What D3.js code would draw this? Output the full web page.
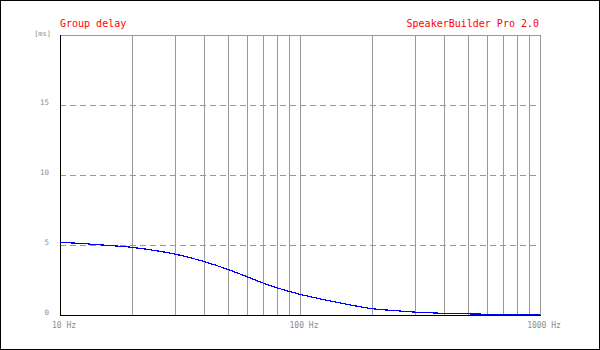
<!DOCTYPE html>
<html>
<head>
<meta charset="utf-8">
<script src="https://cdn.jsdelivr.net/npm/d3@7"></script>
<style>
  body { margin: 0; background: #fff; }
  svg { display: block; }
</style>
</head>
<body>
<svg id="chart"></svg>
<script>
// chart data
const freqs = [10, 12, 15, 20, 25, 30, 40, 50, 60, 70, 80, 90, 100, 120, 150, 200, 250, 300, 400, 500, 700, 1000];
const delayMs = [5.19, 5.12, 5.0, 4.83, 4.6, 4.36, 3.81, 3.26, 2.74, 2.29, 1.95, 1.69, 1.48, 1.17, 0.83, 0.45, 0.31, 0.21, 0.12, 0.08, 0.04, 0.02];
const gridFreqs = [20, 30, 40, 50, 60, 70, 80, 90, 100, 200, 300, 400, 500, 600, 700, 800, 900, 1000];
const xLabels = [[10, "10 Hz"], [100, "100 Hz"], [1000, "1000 Hz"]];
const yTicks = [0, 5, 10, 15];
const dashedTicks = [5, 10, 15];

const width = 600;
const height = 350;
const margin = { top: 35, right: 60, bottom: 35, left: 60 };
const gray = "#999";
const labelGray = "#8c8c8c";
const mono = "'DejaVu Sans Mono', 'Liberation Mono', monospace";

const svg = d3.select("#chart")
    .attr("width", width)
    .attr("height", height);

// outer frame
svg.append("rect")
    .attr("x", 0.5).attr("y", 0.5)
    .attr("width", width - 1).attr("height", height - 1)
    .attr("fill", "#fff")
    .attr("stroke", "#000");

const x = d3.scaleLog()
    .domain([10, 1000])
    .range([margin.left, width - margin.right]);

const y = d3.scaleLinear()
    .domain([0, 20])
    .range([height - margin.bottom, margin.top]);

const px = v => Math.round(v) + 0.5;

// top border
svg.append("line")
    .attr("x1", x(10)).attr("x2", x(1000))
    .attr("y1", px(y(20))).attr("y2", px(y(20)))
    .attr("stroke", gray)
    .attr("shape-rendering", "crispEdges");

// vertical grid lines
svg.selectAll(".vgrid")
    .data(gridFreqs)
    .enter()
    .append("line")
    .attr("class", "vgrid")
    .attr("x1", d => px(x(d))).attr("x2", d => px(x(d)))
    .attr("y1", y(20)).attr("y2", y(0))
    .attr("stroke", gray)
    .attr("shape-rendering", "crispEdges");

// dashed horizontal grid
svg.selectAll(".hgrid")
    .data(dashedTicks)
    .enter()
    .append("line")
    .attr("class", "hgrid")
    .attr("x1", x(10)).attr("x2", x(1000))
    .attr("y1", d => px(y(d))).attr("y2", d => px(y(d)))
    .attr("stroke", gray)
    .attr("stroke-dasharray", "6,4")
    .attr("shape-rendering", "crispEdges");

// axes (left and bottom in black)
svg.append("line")
    .attr("x1", px(x(10))).attr("x2", px(x(10)))
    .attr("y1", y(20)).attr("y2", y(0) + 1)
    .attr("stroke", "#000")
    .attr("shape-rendering", "crispEdges");
svg.append("line")
    .attr("x1", x(10)).attr("x2", x(1000) + 1)
    .attr("y1", px(y(0))).attr("y2", px(y(0)))
    .attr("stroke", "#000")
    .attr("shape-rendering", "crispEdges");

// curve
const points = freqs.map((f, i) => ({ f: f, v: delayMs[i] }));
const line = d3.line()
    .x(d => x(d.f))
    .y(d => y(d.v))
    .curve(d3.curveMonotoneX);

svg.append("path")
    .datum(points)
    .attr("fill", "none")
    .attr("stroke", "#0000ff")
    .attr("stroke-width", 1.2)
    .attr("shape-rendering", "crispEdges")
    .attr("d", line);

// y tick labels
svg.selectAll(".ylab")
    .data(yTicks)
    .enter()
    .append("text")
    .attr("class", "ylab")
    .attr("x", 49)
    .attr("y", d => y(d))
    .attr("text-anchor", "end")
    .attr("font-family", mono)
    .attr("font-size", "7.5px")
    .attr("fill", labelGray)
    .text(d => d);

svg.append("text")
    .attr("x", 51)
    .attr("y", 36)
    .attr("text-anchor", "end")
    .attr("font-family", mono)
    .attr("font-size", "7px")
    .attr("fill", labelGray)
    .text("[ms]");

// x labels
svg.selectAll(".xlab")
    .data(xLabels)
    .enter()
    .append("text")
    .attr("class", "xlab")
    .attr("x", d => x(d[0]) + 4)
    .attr("y", 328)
    .attr("text-anchor", "middle")
    .attr("font-family", mono)
    .attr("font-size", "8px")
    .attr("fill", labelGray)
    .text(d => d[1]);

// titles
svg.append("text")
    .attr("x", 60)
    .attr("y", 27)
    .attr("font-family", mono)
    .attr("font-size", "10px")
    .attr("fill", "#ff0000")
    .text("Group delay");

svg.append("text")
    .attr("x", 539)
    .attr("y", 27)
    .attr("text-anchor", "end")
    .attr("font-family", mono)
    .attr("font-size", "10px")
    .attr("fill", "#ff0000")
    .text("SpeakerBuilder Pro 2.0");
</script>
</body>
</html>
